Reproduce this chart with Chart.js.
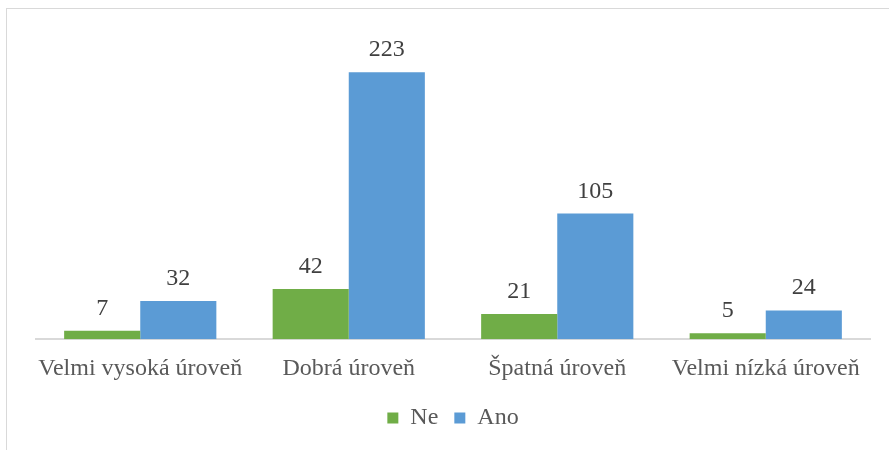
<!DOCTYPE html>
<html>
<head>
  <meta charset="utf-8">
  <script src="https://cdn.jsdelivr.net/npm/chart.js"></script>
  <style>
    body { margin: 0; background: #fff; }
    canvas { position: absolute; left: 0; top: 0; }
  </style>
</head>
<body>
<canvas id="chart" width="889" height="450"></canvas>
<script>
const categories = ['Velmi vysoká úroveň', 'Dobrá úroveň', 'Špatná úroveň', 'Velmi nízká úroveň'];
const ne = [7, 42, 21, 5];
const ano = [32, 223, 105, 24];

// light grey frame around the chart
const frame = {
  id: 'frame',
  beforeDraw(chart) {
    const ctx = chart.ctx;
    ctx.save();
    ctx.strokeStyle = '#d9d9d9';
    ctx.lineWidth = 1;
    ctx.strokeRect(6.5, 8.5, 900, 500);
    ctx.restore();
  }
};

// values above the bars
const valueLabels = {
  id: 'valueLabels',
  afterDatasetsDraw(chart) {
    const ctx = chart.ctx;
    ctx.save();
    ctx.font = "24px 'Liberation Serif', serif";
    ctx.fillStyle = '#404040';
    ctx.textAlign = 'center';
    ctx.textBaseline = 'alphabetic';
    chart.data.datasets.forEach((ds, i) => {
      chart.getDatasetMeta(i).data.forEach((bar, j) => {
        ctx.fillText(ds.data[j], bar.x, bar.y - 16);
      });
    });
    ctx.restore();
  }
};

new Chart(document.getElementById('chart'), {
  type: 'bar',
  data: {
    labels: categories,
    datasets: [
      { label: 'Ne', data: ne, backgroundColor: '#70ad47' },
      { label: 'Ano', data: ano, backgroundColor: '#5b9bd5' }
    ]
  },
  options: {
    responsive: false,
    animation: false,
    layout: { padding: { left: 36, right: 19, top: 40, bottom: 10 } },
    datasets: { bar: { categoryPercentage: 0.73, barPercentage: 1 } },
    scales: {
      x: {
        grid: { display: false },
        border: { display: true, color: '#d9d9d9', width: 2 },
        ticks: { color: '#595959', font: { family: "'Liberation Serif', serif", size: 24 }, padding: 7, maxRotation: 0, autoSkip: false }
      },
      y: { display: false, min: 0, max: 250 }
    },
    plugins: {
      legend: {
        position: 'bottom',
        labels: { color: '#595959', font: { family: "'Liberation Serif', serif", size: 24 }, boxWidth: 11, boxHeight: 11, padding: 16 }
      },
      tooltip: { enabled: false }
    }
  },
  plugins: [frame, valueLabels]
});
</script>
</body>
</html>
